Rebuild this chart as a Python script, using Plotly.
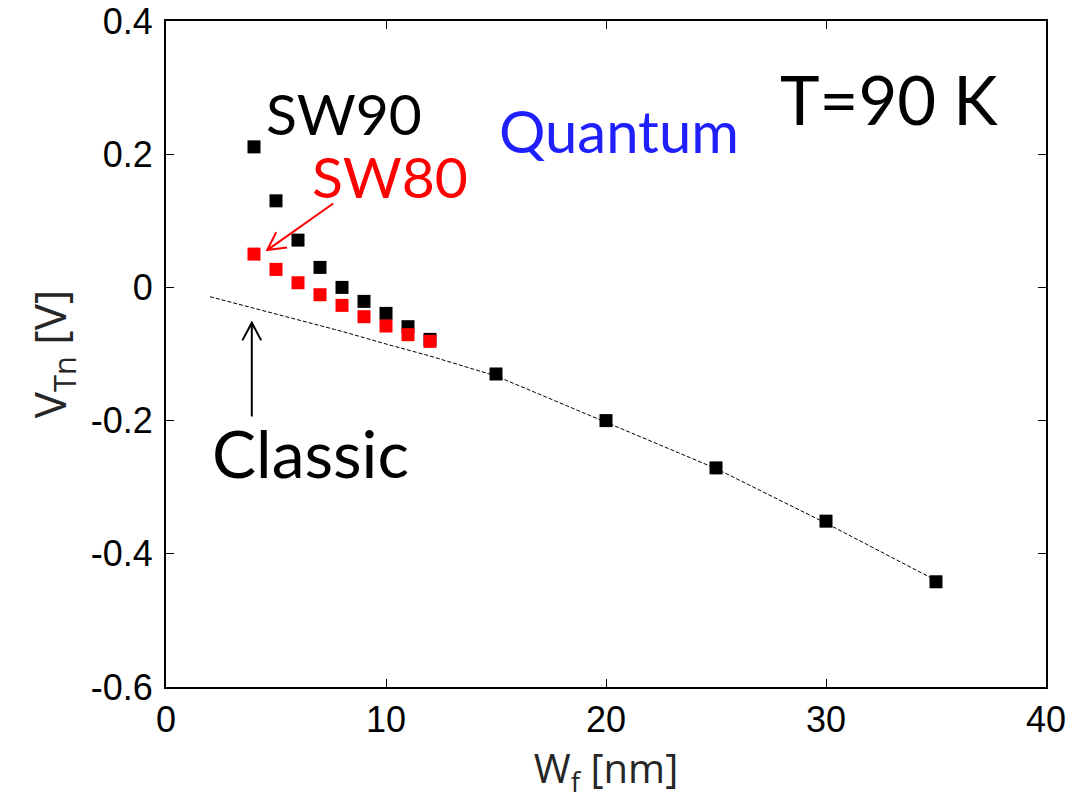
import math
import plotly.graph_objects as go

# Fin width [nm] and threshold voltage [V]
wf_sw90 = [4, 5, 6, 7, 8, 9, 10, 11, 12, 15, 20, 25, 30, 35]
vt_sw90 = [0.211, 0.130, 0.071, 0.030, 0.000, -0.021, -0.039, -0.059, -0.078,
           -0.130, -0.200, -0.271, -0.351, -0.442]

wf_sw80 = [4, 5, 6, 7, 8, 9, 10, 11, 12]
vt_sw80 = [0.050, 0.027, 0.007, -0.011, -0.027, -0.044, -0.058, -0.071, -0.081]

# Classical (no quantum confinement) threshold voltage
wf_classic = [2, 4, 6, 8, 10, 12, 15, 20, 25, 30, 35]
vt_classic = [-0.014, -0.031, -0.048, -0.066, -0.085, -0.103, -0.133, -0.202,
              -0.272, -0.354, -0.440]

x_ticks = [0, 10, 20, 30, 40]
x_tick_labels = ["0", "10", "20", "30", "40"]
y_ticks = [-0.6, -0.4, -0.2, 0.0, 0.2, 0.4]
y_tick_labels = ["-0.6", "-0.4", "-0.2", "0", "0.2", "0.4"]

X_RANGE = [0, 40]
Y_RANGE = [-0.6, 0.4]
WIDTH, HEIGHT = 1080, 802
MARGIN = dict(l=166, r=34, t=21, b=115)

ANNOT_FONT = "Lato"
TICK_FONT = "Liberation Sans"
TITLE_FONT = "Open Sans"

# pixels per data unit, used to keep arrow heads a fixed on-screen size
PX_X = (WIDTH - MARGIN["l"] - MARGIN["r"]) / (X_RANGE[1] - X_RANGE[0])
PX_Y = (HEIGHT - MARGIN["t"] - MARGIN["b"]) / (Y_RANGE[1] - Y_RANGE[0])


def arrow_path(x0, y0, x1, y1, head_len=20, half_angle=28):
    """SVG path for a shaft from (x0, y0) to (x1, y1) with an open V head."""
    dx, dy = (x1 - x0) * PX_X, (y1 - y0) * PX_Y
    ang = math.atan2(dy, dx)
    pts = []
    for s in (-1, 1):
        a = ang + math.pi + s * math.radians(half_angle)
        pts.append((x1 + head_len * math.cos(a) / PX_X,
                    y1 + head_len * math.sin(a) / PX_Y))
    return (f"M{x0},{y0} L{x1},{y1} "
            f"M{pts[0][0]},{pts[0][1]} L{x1},{y1} L{pts[1][0]},{pts[1][1]}")


fig = go.Figure()

fig.add_trace(go.Scatter(
    x=wf_classic, y=vt_classic, mode="lines",
    line=dict(color="black", width=1, dash="4px,2px"),
    showlegend=False, hoverinfo="skip",
))
fig.add_trace(go.Scatter(
    x=wf_sw90, y=vt_sw90, mode="markers",
    marker=dict(symbol="square", size=13, color="black", line=dict(width=0)),
    showlegend=False,
))
fig.add_trace(go.Scatter(
    x=wf_sw80, y=vt_sw80, mode="markers",
    marker=dict(symbol="square", size=13, color="#ff0000", line=dict(width=0)),
    showlegend=False,
))

# Text labels
labels = [
    ("SW90", 8.08, 0.2626, "black", 57),
    ("SW80", 10.2, 0.168, "#ff0000", 57),
    ("Quantum", 20.57, 0.2357, "#2020ff", 58),
    ("T=90 K", 32.85, 0.283, "black", 67),
    ("Classic", 6.57, -0.2477, "black", 66),
]
for text, x, y, color, size in labels:
    fig.add_annotation(
        x=x, y=y, xref="x", yref="y", text=text, showarrow=False,
        xanchor="center", yanchor="middle",
        font=dict(family=ANNOT_FONT, size=size, color=color),
    )

# Arrows pointing at the SW80 data and at the classical curve
arrows = [
    (7.60, 0.126, 4.60, 0.056, "#ff0000"),
    (3.90, -0.194, 3.90, -0.053, "black"),
]
for x0, y0, x1, y1, color in arrows:
    fig.add_shape(
        type="path", xref="x", yref="y", path=arrow_path(x0, y0, x1, y1),
        line=dict(color=color, width=2),
    )

axis_common = dict(
    showline=True, linecolor="black", linewidth=2, mirror="allticks",
    ticks="inside", ticklen=8, tickwidth=1, tickcolor="black",
    showgrid=False, zeroline=False,
    tickfont=dict(family=TICK_FONT, size=36, color="black"),
)

fig.update_xaxes(
    range=X_RANGE, tickmode="array", tickvals=x_ticks, ticktext=x_tick_labels,
    title=dict(text="W<sub>f</sub> [nm]", standoff=5,
               font=dict(family=TITLE_FONT, size=40, color="#262626")),
    **axis_common,
)
fig.update_yaxes(
    range=Y_RANGE, tickmode="array", tickvals=y_ticks, ticktext=y_tick_labels,
    ticklabelstandoff=4,
    title=dict(text="V<sub>Tn</sub> [V]", standoff=10,
               font=dict(family=TITLE_FONT, size=44, color="#262626")),
    **axis_common,
)

fig.update_layout(
    width=WIDTH, height=HEIGHT,
    margin=dict(**MARGIN, autoexpand=False),
    paper_bgcolor="white", plot_bgcolor="white",
)

fig.write_html("out.html")
